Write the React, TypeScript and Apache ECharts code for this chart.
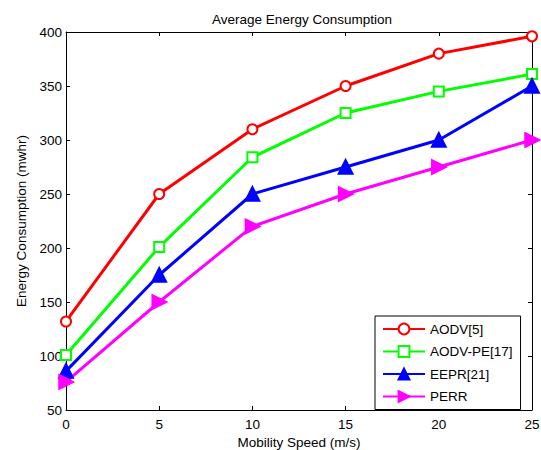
import React, { useEffect, useRef } from "react";
import * as echarts from "echarts";

const speeds = [0, 5, 10, 15, 20, 25];
const aodv = [132, 250, 310, 350, 380, 396];
const aodvPe = [101, 201, 284, 325, 345, 361];
const eepr = [86, 175, 250, 275, 300, 350];
const perr = [76, 150, 220, 250, 275, 300];
const seriesNames = ["AODV[5]", "AODV-PE[17]", "EEPR[21]", "PERR"];

const FONT = "Liberation Sans, Arial, sans-serif";
const FS = 13.5;

export default function App() {
  const ref = useRef<HTMLDivElement>(null);
  useEffect(() => {
    document.body.style.margin = "0";
    const chart = echarts.init(ref.current!, null, { renderer: "svg" });
    const pts = (ys: number[]) => speeds.map((x, i) => [x, ys[i]]);
    const axisCommon = {
      type: "value" as const,
      axisLine: { show: true, onZero: false, lineStyle: { color: "#000", width: 1 } },
      axisTick: { show: true, inside: true, length: 4, lineStyle: { color: "#000" } },
      splitLine: { show: false },
    };
    const mk = (name: string, data: number[], color: string, symbol: string, size: number) => ({
      name,
      type: "line",
      data: pts(data),
      clip: false,
      symbol,
      symbolSize: size,
      showAllSymbol: true,
      lineStyle: { color, width: 3 },
      itemStyle: { color, borderColor: color, borderWidth: 2.5 },
      emphasis: { disabled: true },
    });
    chart.setOption({
      animation: false,
      backgroundColor: "#fff",
      textStyle: { fontFamily: FONT },
      title: {
        text: "Average Energy Consumption",
        left: 297,
        textAlign: "center",
        top: 7,
        textStyle: { fontSize: FS, fontWeight: "normal", color: "#000", fontFamily: FONT },
      },
      grid: { left: 66, right: 9, top: 32, bottom: 40, containLabel: false, outerBoundsMode: "none" },
      xAxis: [
        {
          ...axisCommon,
          min: 0,
          max: 25,
          interval: 5,
          position: "bottom",
          name: "Mobility Speed (m/s)",
          nameLocation: "middle",
          nameGap: 23,
          nameTextStyle: { fontSize: FS, color: "#000", fontFamily: FONT },
          axisLabel: { fontSize: FS, color: "#000", margin: 7, fontFamily: FONT },
        },
        {
          ...axisCommon,
          min: 0,
          max: 25,
          interval: 5,
          position: "top",
          axisLabel: { show: false },
        },
      ],
      yAxis: [
        {
          ...axisCommon,
          min: 50,
          max: 400,
          interval: 50,
          position: "left",
          name: "Energy Consumption (mwhr)",
          nameLocation: "middle",
          nameGap: 35,
          nameTextStyle: { fontSize: FS, color: "#000", fontFamily: FONT },
          axisLabel: { fontSize: FS, color: "#000", margin: 4, fontFamily: FONT },
        },
        {
          ...axisCommon,
          min: 50,
          max: 400,
          interval: 50,
          position: "right",
          axisLabel: { show: false },
        },
      ],
      legend: {
        orient: "vertical",
        left: 375,
        top: 316,
        width: 152,
        padding: [6, 8, 6, 7],
        itemGap: 8.5,
        itemWidth: 42,
        itemHeight: 13.5,
        borderColor: "#000",
        borderWidth: 1,
        backgroundColor: "#fff",
        textStyle: { fontSize: FS, color: "#000", fontFamily: FONT },
        data: seriesNames,
      },
      series: [
        mk(seriesNames[0], aodv, "#ff0000", "emptyCircle", 10),
        mk(seriesNames[1], aodvPe, "#00ff00", "emptyRect", 10),
        mk(seriesNames[2], eepr, "#0000ff", "triangle", 13),
        mk(seriesNames[3], perr, "#ff00ff", "path://M0,0 L10,6 L0,12 Z", 13),
      ],
    });
    return () => chart.dispose();
  }, []);
  return <div ref={ref} style={{ width: 541, height: 450 }} />;
}
